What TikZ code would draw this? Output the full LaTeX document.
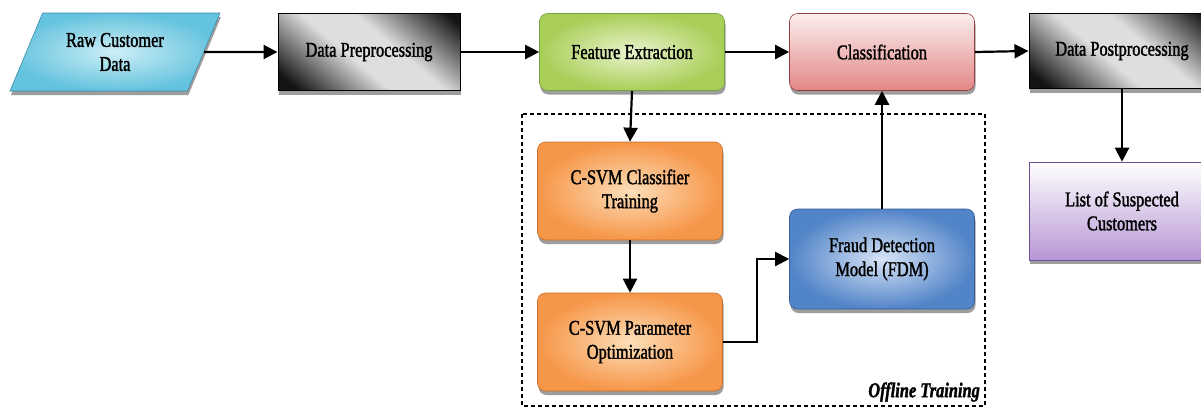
\documentclass[tikz,border=0pt]{standalone}
\usepackage{fontspec}
\setmainfont{Liberation Serif}[FakeStretch=0.78, FakeBold=1.5]
\usetikzlibrary{shapes.geometric,arrows.meta,shadows}
\definecolor{cyanE}{RGB}{100,195,222}
\definecolor{cyanC}{RGB}{205,238,246}
\definecolor{cyanB}{RGB}{60,140,170}
\definecolor{greenE}{RGB}{168,206,88}
\definecolor{greenC}{RGB}{234,244,205}
\definecolor{greenB}{RGB}{120,160,60}
\definecolor{pinkT}{RGB}{252,238,238}
\definecolor{pinkE}{RGB}{226,135,135}
\definecolor{pinkB}{RGB}{150,60,60}
\definecolor{orangeE}{RGB}{246,150,72}
\definecolor{orangeC}{RGB}{253,222,185}
\definecolor{orangeB}{RGB}{200,110,40}
\definecolor{blueE}{RGB}{82,132,200}
\definecolor{blueC}{RGB}{214,228,246}
\definecolor{blueB}{RGB}{50,90,150}
\definecolor{purpleE}{RGB}{182,150,212}
\definecolor{purpleB}{RGB}{110,80,150}
\definecolor{greyL}{RGB}{222,222,222}
\definecolor{greyD}{RGB}{20,20,20}
\pgfdeclareverticalshading{darkband}{100bp}{color(0bp)=(greyD); color(20bp)=(greyD); color(44bp)=(greyL); color(58bp)=(greyL); color(82bp)=(greyD); color(100bp)=(greyD)}
\tikzset{
  lbl/.style={font=\fontsize{21}{24}\selectfont, align=center, inner sep=0pt},
  box/.style={lbl, minimum width=185pt, minimum height=77pt, draw, line width=0.6pt,
    drop shadow={shadow xshift=1pt, shadow yshift=-4pt, opacity=0.55, fill=black!70}},
  rbox/.style={box, rounded corners=8pt},
  darkbox/.style={box, draw=black, line width=1pt, shade, shading=darkband, shading angle=-40},
  conn/.style={line width=2.2pt, -{Triangle[length=14pt,width=14pt]}},
  region/.style={line width=1.5pt, dash pattern=on 4pt off 3pt}
}
\begin{document}
\begin{tikzpicture}[x=1pt,y=-1pt]
\useasboundingbox (0,0) rectangle (1201,408);
\clip (0,0) rectangle (1201,408);
% offline training region
\draw[region] (522,114) rectangle (985,406);
\node[lbl, anchor=east, font=\fontsize{21}{24}\selectfont\bfseries\itshape] (offline) at (980,392) {Offline Training};
% nodes
\node[box, trapezium, trapezium left angle=60, trapezium right angle=120, trapezium stretches=true,
  minimum width=210pt, minimum height=78pt, inner color=cyanC, outer color=cyanE, draw=cyanB] (raw) at (115,52) {Raw Customer\\Data};
\node[darkbox, minimum width=182pt] (prep) at (369,52) {Data Preprocessing};
\node[rbox, inner color=greenC, outer color=greenE, draw=greenB] (feat) at (632,52) {Feature Extraction};
\node[rbox, top color=pinkT, bottom color=pinkE, draw=pinkB] (class) at (882,52) {Classification};
\node[darkbox, minimum width=186pt, minimum height=75pt] (post) at (1122,51) {Data Postprocessing};
\node[box, minimum width=186pt, minimum height=98pt, top color=white, bottom color=purpleE, draw=purpleB] (list) at (1122,211) {List of Suspected\\Customers};
\node[rbox, minimum height=98pt, inner color=orangeC, outer color=orangeE, draw=orangeB] (csvm1) at (630,191) {C-SVM Classifier\\Training};
\node[rbox, minimum height=98pt, inner color=orangeC, outer color=orangeE, draw=orangeB] (csvm2) at (630,342) {C-SVM Parameter\\Optimization};
\node[rbox, minimum height=100pt, inner color=blueC, outer color=blueE, draw=blueB] (fdm) at (882,259) {Fraud Detection\\Model (FDM)};
% connectors
\draw[conn] (raw.east) -- (prep.west);
\draw[conn] (prep.east) -- (feat.west);
\draw[conn] (feat.east) -- (class.west);
\draw[conn] (class.east) -- (post.west);
\draw[conn] (post.south) -- (list.north);
\draw[conn] (feat.south) -- (csvm1.north);
\draw[conn] (csvm1.south) -- (csvm2.north);
\draw[conn] (csvm2.east) -- ++(34,0) |- (fdm.west);
\draw[conn] (fdm.north) -- (class.south);
\end{tikzpicture}
\end{document}
